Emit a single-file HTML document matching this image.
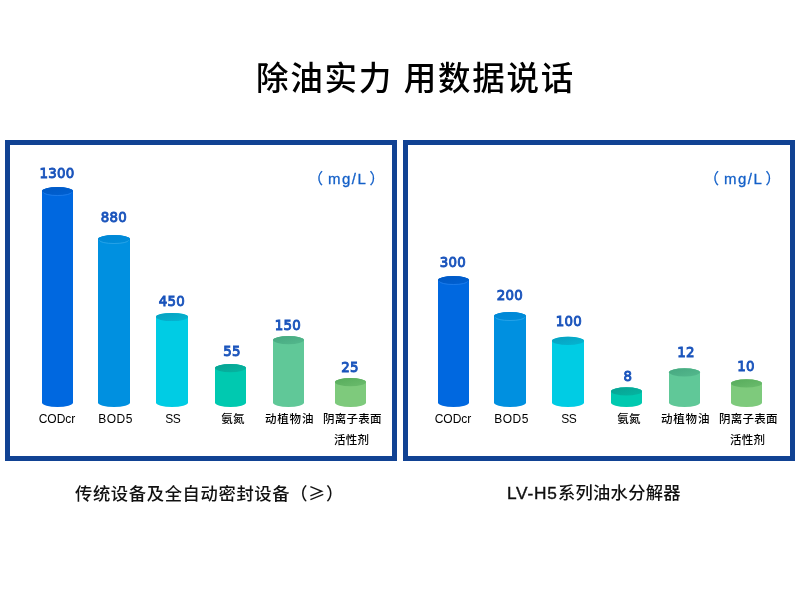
<!DOCTYPE html>
<html lang="zh-CN">
<head>
<meta charset="utf-8">
<title>除油实力 用数据说话</title>
<style>
html,body{margin:0;padding:0;background:#fff;}
body{width:800px;height:600px;position:relative;overflow:hidden;font-family:"Liberation Sans","Noto Sans CJK SC",sans-serif;color:#000;}
.title{position:absolute;left:256px;top:54.5px;font-size:32.5px;line-height:48px;letter-spacing:1.75px;color:#000;white-space:pre;font-weight:500;}
.panel{position:absolute;top:140px;width:382px;height:311px;border:5px solid #114293;background:#fff;}
.p1{left:5px;}
.p2{left:403px;}
svg{position:absolute;left:0;top:0;}
.v{position:absolute;width:60px;text-align:center;font-family:"DejaVu Sans","Liberation Sans",sans-serif;font-size:14.5px;line-height:18px;color:#1a54bc;font-weight:normal;-webkit-text-stroke:0.95px #1a54bc;letter-spacing:0.3px;transform:scaleX(0.92);}
.n{position:absolute;top:409px;width:80px;text-align:center;font-size:12px;line-height:20px;color:#000;}
.n.c{font-size:11.5px;top:409px;font-weight:500;}
.n.c span{letter-spacing:0.3px;margin-left:-1.5px;position:relative;top:0.7px;}
.u{position:absolute;top:168.5px;font-size:15px;line-height:20px;color:#1460c8;white-space:nowrap;-webkit-text-stroke:0.3px #1460c8;}
.u b{font-weight:normal;letter-spacing:1.55px;margin-left:5px;margin-right:2px;}
.cap{position:absolute;top:480px;font-size:17.3px;line-height:26px;color:#111;white-space:nowrap;letter-spacing:0.65px;font-weight:500;}
.ge{font-family:"Noto Sans CJK SC",sans-serif;}
.lat{-webkit-text-stroke:0.4px #111;letter-spacing:0.75px;margin-right:0.5px;}
</style>
</head>
<body>
<div class="title">除油实力 用数据说话</div>
<div class="panel p1"></div>
<div class="panel p2"></div>
<svg width="800" height="600" viewBox="0 0 800 600">
<defs><linearGradient id="g1" x1="0" y1="0" x2="1" y2="1"><stop offset="0.15" stop-color="#005ac6"/><stop offset="0.95" stop-color="#0060d2"/></linearGradient>
<linearGradient id="g2" x1="0" y1="0" x2="1" y2="1"><stop offset="0.15" stop-color="#0088d6"/><stop offset="0.95" stop-color="#008cda"/></linearGradient>
<linearGradient id="g3" x1="0" y1="0" x2="1" y2="1"><stop offset="0.15" stop-color="#08a2c2"/><stop offset="0.95" stop-color="#04b5d1"/></linearGradient>
<linearGradient id="g4" x1="0" y1="0" x2="1" y2="1"><stop offset="0.15" stop-color="#08a494"/><stop offset="0.95" stop-color="#04b5a1"/></linearGradient>
<linearGradient id="g5" x1="0" y1="0" x2="1" y2="1"><stop offset="0.15" stop-color="#48aa82"/><stop offset="0.95" stop-color="#53b88c"/></linearGradient>
<linearGradient id="g6" x1="0" y1="0" x2="1" y2="1"><stop offset="0.15" stop-color="#5aae5e"/><stop offset="0.95" stop-color="#6abb6c"/></linearGradient>
<linearGradient id="g7" x1="0" y1="0" x2="1" y2="1"><stop offset="0.15" stop-color="#005ac6"/><stop offset="0.95" stop-color="#0060d2"/></linearGradient>
<linearGradient id="g8" x1="0" y1="0" x2="1" y2="1"><stop offset="0.15" stop-color="#0088d6"/><stop offset="0.95" stop-color="#008cda"/></linearGradient>
<linearGradient id="g9" x1="0" y1="0" x2="1" y2="1"><stop offset="0.15" stop-color="#08a2c2"/><stop offset="0.95" stop-color="#04b5d1"/></linearGradient>
<linearGradient id="g10" x1="0" y1="0" x2="1" y2="1"><stop offset="0.15" stop-color="#08a494"/><stop offset="0.95" stop-color="#04b5a1"/></linearGradient>
<linearGradient id="g11" x1="0" y1="0" x2="1" y2="1"><stop offset="0.15" stop-color="#48aa82"/><stop offset="0.95" stop-color="#53b88c"/></linearGradient>
<linearGradient id="g12" x1="0" y1="0" x2="1" y2="1"><stop offset="0.15" stop-color="#5aae5e"/><stop offset="0.95" stop-color="#6abb6c"/></linearGradient></defs>
<path d="M42 191.1 L42 402.8 A15.5 4.2 0 0 0 73 402.8 L73 191.1 A15.5 4.1 0 0 0 42 191.1 Z" fill="#0068e0"/><ellipse cx="57.5" cy="191.1" rx="15.5" ry="4.1" fill="url(#g1)"/><path d="M43.5 192.29999999999998 A14.0 3.1999999999999997 0 0 0 71.5 192.29999999999998" fill="none" stroke="#2a84f0" stroke-width="0.9" opacity="0.75"/>
<path d="M98 239.1 L98 402.8 A16.0 4.2 0 0 0 130 402.8 L130 239.1 A16.0 4.1 0 0 0 98 239.1 Z" fill="#0090e0"/><ellipse cx="114.0" cy="239.1" rx="16.0" ry="4.1" fill="url(#g2)"/><path d="M99.5 240.29999999999998 A14.5 3.1999999999999997 0 0 0 128.5 240.29999999999998" fill="none" stroke="#38acec" stroke-width="0.9" opacity="0.75"/>
<path d="M156 317.0 L156 402.8 A16.0 4.2 0 0 0 188 402.8 L188 317.0 A16.0 4.1 0 0 0 156 317.0 Z" fill="#00cce4"/><ellipse cx="172.0" cy="317.0" rx="16.0" ry="4.1" fill="url(#g3)"/>
<path d="M215 368.1 L215 402.8 A15.5 4.2 0 0 0 246 402.8 L246 368.1 A15.5 4.1 0 0 0 215 368.1 Z" fill="#00c9b0"/><ellipse cx="230.5" cy="368.1" rx="15.5" ry="4.1" fill="url(#g4)"/>
<path d="M273 340.1 L273 402.8 A15.5 4.2 0 0 0 304 402.8 L304 340.1 A15.5 4.1 0 0 0 273 340.1 Z" fill="#60c898"/><ellipse cx="288.5" cy="340.1" rx="15.5" ry="4.1" fill="url(#g5)"/>
<path d="M335 382.20000000000005 L335 402.8 A15.5 4.2 0 0 0 366 402.8 L366 382.20000000000005 A15.5 4.1 0 0 0 335 382.20000000000005 Z" fill="#7eca7c"/><ellipse cx="350.5" cy="382.20000000000005" rx="15.5" ry="4.1" fill="url(#g6)"/>
<path d="M438 280.1 L438 402.8 A15.5 4.2 0 0 0 469 402.8 L469 280.1 A15.5 4.1 0 0 0 438 280.1 Z" fill="#0068e0"/><ellipse cx="453.5" cy="280.1" rx="15.5" ry="4.1" fill="url(#g7)"/><path d="M439.5 281.3 A14.0 3.1999999999999997 0 0 0 467.5 281.3" fill="none" stroke="#2a84f0" stroke-width="0.9" opacity="0.75"/>
<path d="M494 316.1 L494 402.8 A16.0 4.2 0 0 0 526 402.8 L526 316.1 A16.0 4.1 0 0 0 494 316.1 Z" fill="#0090e0"/><ellipse cx="510.0" cy="316.1" rx="16.0" ry="4.1" fill="url(#g8)"/><path d="M495.5 317.3 A14.5 3.1999999999999997 0 0 0 524.5 317.3" fill="none" stroke="#38acec" stroke-width="0.9" opacity="0.75"/>
<path d="M552 340.90000000000003 L552 402.8 A16.0 4.2 0 0 0 584 402.8 L584 340.90000000000003 A16.0 4.1 0 0 0 552 340.90000000000003 Z" fill="#00cce4"/><ellipse cx="568.0" cy="340.90000000000003" rx="16.0" ry="4.1" fill="url(#g9)"/>
<path d="M611 391.40000000000003 L611 402.8 A15.5 4.2 0 0 0 642 402.8 L642 391.40000000000003 A15.5 4.1 0 0 0 611 391.40000000000003 Z" fill="#00c9b0"/><ellipse cx="626.5" cy="391.40000000000003" rx="15.5" ry="4.1" fill="url(#g10)"/>
<path d="M669 372.3 L669 402.8 A15.5 4.2 0 0 0 700 402.8 L700 372.3 A15.5 4.1 0 0 0 669 372.3 Z" fill="#60c898"/><ellipse cx="684.5" cy="372.3" rx="15.5" ry="4.1" fill="url(#g11)"/>
<path d="M731 383.40000000000003 L731 402.8 A15.5 4.2 0 0 0 762 402.8 L762 383.40000000000003 A15.5 4.1 0 0 0 731 383.40000000000003 Z" fill="#7eca7c"/><ellipse cx="746.5" cy="383.40000000000003" rx="15.5" ry="4.1" fill="url(#g12)"/>
</svg>
<div class="v" style="left:26.6px;top:163.6px">1300</div>
<div class="v" style="left:83.5px;top:208.4px">880</div>
<div class="v" style="left:142.0px;top:291.7px">450</div>
<div class="v" style="left:201.5px;top:341.9px">55</div>
<div class="v" style="left:258.0px;top:315.9px">150</div>
<div class="v" style="left:319.8px;top:357.7px">25</div>
<div class="v" style="left:423.4px;top:252.7px">300</div>
<div class="v" style="left:479.8px;top:285.9px">200</div>
<div class="v" style="left:539.2px;top:311.7px">100</div>
<div class="v" style="left:597.8px;top:366.7px">8</div>
<div class="v" style="left:655.5px;top:343.4px">12</div>
<div class="v" style="left:716.0px;top:356.9px">10</div>
<div class="n" style="left:17.0px;letter-spacing:0.0px">CODcr</div>
<div class="n" style="left:75.6px;letter-spacing:0.45px">BOD5</div>
<div class="n" style="left:132.7px;letter-spacing:-0.6px">SS</div>
<div class="n c" style="left:193.1px;letter-spacing:0.3px">氨氮</div>
<div class="n c" style="left:249.6px;letter-spacing:0.85px">动植物油</div>
<div class="n c" style="left:312.4px;letter-spacing:0.3px">阴离子表面<br><span>活性剂</span></div>
<div class="n" style="left:413.0px;letter-spacing:0.0px">CODcr</div>
<div class="n" style="left:471.6px;letter-spacing:0.45px">BOD5</div>
<div class="n" style="left:528.7px;letter-spacing:-0.6px">SS</div>
<div class="n c" style="left:589.0px;letter-spacing:0.3px">氨氮</div>
<div class="n c" style="left:645.6px;letter-spacing:0.85px">动植物油</div>
<div class="n c" style="left:708.4px;letter-spacing:0.3px">阴离子表面<br><span>活性剂</span></div>
<div class="u" style="left:307.9px">（<b>mg/L</b>）</div>
<div class="u" style="left:703.9px">（<b>mg/L</b>）</div>
<div class="cap" style="left:75px">传统设备及全自动密封设备（<span class="ge">≥</span>）</div>
<div class="cap" style="left:507px;letter-spacing:0.25px"><span class="lat">LV-H5</span>系列油水分解器</div>
</body>
</html>
